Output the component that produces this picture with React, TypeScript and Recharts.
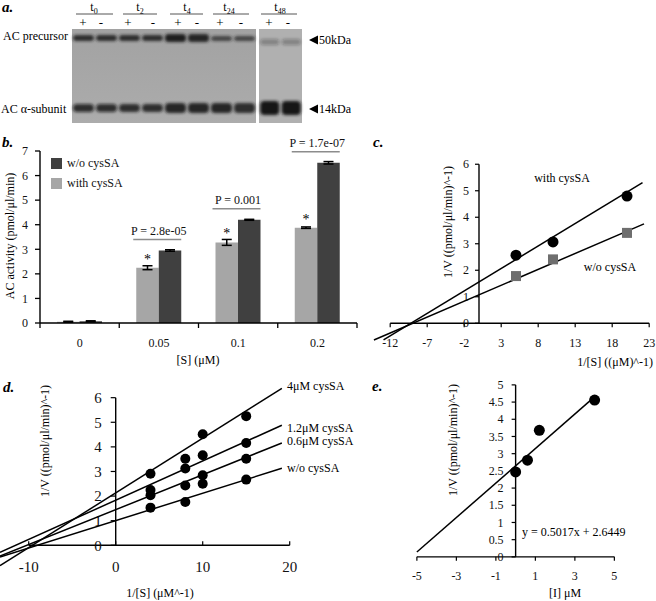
import React from 'react';
import {
  BarChart, Bar, XAxis, YAxis, ErrorBar, LabelList, Legend,
  ScatterChart, Scatter, ReferenceLine,
} from 'recharts';

const FONT = '"Liberation Serif", "Times New Roman", Times, serif';
const INK = '#111';

// ---------- panel a (western blot) ----------
const blotTimes = ['0', '2', '4', '24', '48'];
const blotSigns = ['+', '-', '+', '-', '+', '-', '+', '-', '+', '-'];
const precursorDensity = [0.85, 0.85, 0.85, 0.85, 0.95, 0.9, 0.7, 0.7, 0.3, 0.3];
const alphaDensity = [0.8, 0.8, 0.85, 0.85, 0.9, 0.9, 0.9, 0.85, 1, 1];

// ---------- panel b ----------
const sCategories = ['0', '0.05', '0.1', '0.2'];
const withCysSA = [0.05, 2.25, 3.28, 3.88];
const withCysSAErr = [0.02, 0.08, 0.12, 0.03];
const withoutCysSA = [0.07, 2.95, 4.2, 6.52];
const withoutCysSAErr = [0.02, 0.03, 0.02, 0.05];
const significance = ['', '*', '*', '*'];
const pValues = ['', 'P = 2.8e-05', 'P = 0.001', 'P = 1.7e-07'];
const activityTicks = [0, 1, 2, 3, 4, 5, 6, 7];
const legendOrder = ['w/o cysSA', 'with cysSA'];

// ---------- panel c ----------
const cInvS = [5, 10, 20];
const cWithInvV = [2.57, 3.07, 4.8];
const cWithoutInvV = [1.78, 2.41, 3.41];
const cWithFitX = [-12.9, 22.1];
const cWithFitY = [-0.63, 5.31];
const cWithoutFitX = [-14.2, 22.3];
const cWithoutFitY = [-0.63, 3.75];
const cXTicks = [-12, -7, -2, 3, 8, 13, 18, 23];
const cYTicks = [0, 1, 2, 3, 4, 5, 6];

// ---------- panel d ----------
const dInvS = [4, 8, 10, 15];
const dWithout = [1.53, 1.76, 2.5, 2.67];
const d06 = [2.03, 2.43, 2.85, 3.52];
const d12 = [2.25, 3.12, 3.66, 4.16];
const d4 = [2.91, 3.52, 4.51, 5.25];
const dFitX = [-13.3, 19.1];
const dFitWithoutY = [-0.48, 3.13];
const dFit06Y = [-0.44, 4.16];
const dFit12Y = [-0.29, 4.88];
const dFit4Y = [-0.83, 6.38];
const dXTicks = [-10, 0, 10, 20];
const dYTicks = [0, 1, 2, 3, 4, 5, 6];

// ---------- panel e ----------
const eInhibitor = [0, 0.6, 1.2, 4];
const eInvV = [2.47, 2.81, 3.68, 4.56];
const eFitX = [-5, 4.05];
const eFitY = [0.14, 4.68];
const eXTicks = [-5, -3, -1, 1, 3, 5];
const eYTicks = [0, 0.5, 1, 1.5, 2, 2.5, 3, 3.5, 4, 4.5, 5];

// ---------- helpers ----------
const pts = (xs: number[], ys: number[]) => xs.map((x, i) => ({ x, y: ys[i] }));
const xTickData = (ticks: number[]) => ticks.map((v) => ({ x: v, y: 0, label: String(v) }));
const yTickData = (ticks: number[]) => ticks.map((v) => ({ x: 0, y: v, label: String(v) }));

const NoMark = () => <g />;
const dot = (r: number) => (p: any) => <circle cx={p.cx} cy={p.cy} r={r} fill="#000" />;
const square = (p: any) => <rect x={p.cx - 5} y={p.cy - 5} width={10} height={10} fill="#6e6e6e" />;

const makeXTick = (fs: number, dy: number, len: number) => (p: any) => (
  <g>
    <line x1={p.cx} x2={p.cx} y1={p.cy} y2={p.cy + len} stroke="#000" strokeWidth={1.2} />
    <text x={p.cx} y={p.cy + dy} textAnchor="middle" fontSize={fs} fontFamily={FONT} fill={INK}>
      {p.payload.label}
    </text>
  </g>
);
const makeYTick = (fs: number, gap: number, len: number) => (p: any) => (
  <g>
    <line x1={p.cx - len} x2={p.cx} y1={p.cy} y2={p.cy} stroke="#000" strokeWidth={1.2} />
    <text x={p.cx - gap} y={p.cy} dy="0.35em" textAnchor="end" fontSize={fs} fontFamily={FONT} fill={INK}>
      {p.payload.label}
    </text>
  </g>
);

type Frame = { ox: number; oy: number; sx: number; sy: number; x0: number; x1: number; y0: number; y1: number };
const frameStyle = (f: Frame): React.CSSProperties => ({
  position: 'absolute',
  left: f.ox + f.x0 * f.sx,
  top: f.oy - f.y1 * f.sy,
});
const frameW = (f: Frame) => (f.x1 - f.x0) * f.sx;
const frameH = (f: Frame) => (f.y1 - f.y0) * f.sy;

const frameC: Frame = { ox: 479, oy: 323, sx: 7.4, sy: 26.5, x0: -15, x1: 24.3, y0: -1.2, y1: 6.5 };
const frameD: Frame = { ox: 116, oy: 545, sx: 8.7, sy: 24.6, x0: -13.3, x1: 22.5, y0: -1.3, y1: 6.8 };
const frameE: Frame = { ox: 515.5, oy: 556.7, sx: 19.75, sy: 34.4, x0: -5.5, x1: 5.5, y0: -0.8, y1: 5.2 };

const axisStroke = { stroke: '#000', strokeWidth: 1.4 };

// ---------- panel b pieces ----------
const bData = sCategories.map((s, i) => ({
  s,
  withV: withCysSA[i],
  withErr: withCysSAErr[i],
  woV: withoutCysSA[i],
  woErr: withoutCysSAErr[i],
  star: significance[i],
  p: pValues[i],
}));

const CatTick = (props: any) => {
  const { x, y, payload, index } = props;
  const half = payload && typeof payload.offset === 'number' && payload.offset > 0 ? payload.offset : 317 / 8;
  return (
    <g>
      {index === 0 && <line x1={x - half} x2={x - half} y1={y} y2={y + 5} stroke="#000" strokeWidth={1.3} />}
      <line x1={x + half} x2={x + half} y1={y} y2={y + 5} stroke="#000" strokeWidth={1.3} />
      <text x={x} y={y + 24} textAnchor="middle" fontSize={12} fontFamily={FONT} fill={INK}>
        {payload.value}
      </text>
    </g>
  );
};

const StarLabel = (p: any) => {
  const { x, y, width, value } = p;
  if (!value) return null;
  return (
    <text x={Number(x) + Number(width) / 2} y={Number(y) - 4} textAnchor="middle" fontSize={14} fontFamily={FONT} fill="#000">
      {value}
    </text>
  );
};

const PLabel = (p: any) => {
  const { x, y, width, value } = p;
  if (!value) return null;
  const X = Number(x);
  const W = Number(width);
  const yl = Number(y) - 11;
  return (
    <g>
      <line x1={X - W - 3} x2={X + W} y1={yl} y2={yl} stroke="#8c8c8c" strokeWidth={1.6} />
      <text x={X} y={yl - 5} textAnchor="middle" fontSize={12} fontFamily={FONT} fill={INK}>
        {value}
      </text>
    </g>
  );
};

const BLegend = (props: any) => {
  const payload: any[] = props.payload || [];
  const items = legendOrder
    .map((name) => payload.find((it: any) => it.value === name))
    .filter(Boolean);
  return (
    <div style={{ fontFamily: FONT, fontSize: 12, color: INK }}>
      {items.map((it: any) => (
        <div key={String(it.value)} style={{ display: 'flex', alignItems: 'center', height: 20 }}>
          <span style={{ width: 11, height: 11, background: it.color, marginRight: 5, display: 'inline-block' }} />
          <span>{it.value}</span>
        </div>
      ))}
    </div>
  );
};

// ---------- overlay (blot + annotation text) ----------
const signX = [83, 101, 128, 153, 178, 197, 220, 241, 269, 288];
const timeX = [94, 140, 187, 229, 280];
const timeLineX0 = [76, 123, 170, 213, 261];
const timeLineX1 = [113, 157, 203, 249, 297];

const laneCenter = (i: number) => (i < 8 ? 72 + 23 * (i + 0.5) : 259 + 21.5 * (i - 8 + 0.5));
const laneWidth = (i: number) => (i < 8 ? 21 : 19);
const precursorBox = (i: number) => (i >= 8 ? [39, 6] : i >= 6 ? [36, 5] : i >= 4 ? [34, 8] : [35, 6]);
const alphaBox = (i: number) => (i >= 8 ? [101, 14] : i >= 4 ? [103, 10] : [104, 8]);

const T = (props: any) => <text fontFamily={FONT} fill="#000" fontSize={12} {...props} />;
const PanelLetter = ({ x, y, c }: { x: number; y: number; c: string }) => (
  <text x={x} y={y} fontFamily={FONT} fontSize={15} fontWeight="bold" fontStyle="italic" fill="#000">{c}</text>
);

const Overlay = () => (
  <svg width={656} height={601} style={{ position: 'absolute', left: 0, top: 0 }}>
    <defs>
      <filter id="blur1" x="-20%" y="-50%" width="140%" height="200%">
        <feGaussianBlur stdDeviation="1.4" />
      </filter>
      <linearGradient id="blotBg" x1="0" y1="0" x2="0" y2="1">
        <stop offset="0" stopColor="#a2a2a2" />
        <stop offset="1" stopColor="#acacac" />
      </linearGradient>
    </defs>
    {/* panel a */}
    <PanelLetter x={2} y={12} c="a." />
    <rect x={72} y={29} width={184} height={94} fill="url(#blotBg)" />
    <rect x={259} y={29} width={43} height={94} fill="#b0b0b0" />
    {blotSigns.map((_, i) => {
      const [py, ph] = precursorBox(i);
      const [ay, ah] = alphaBox(i);
      const w = laneWidth(i);
      const cx = laneCenter(i);
      return (
        <g key={i} filter="url(#blur1)">
          <rect x={cx - w / 2} y={py} width={w} height={ph} rx={3} fill={`rgba(25,25,25,${precursorDensity[i]})`} />
          <rect x={cx - w / 2} y={ay} width={w} height={ah} rx={4} fill={`rgba(20,20,20,${alphaDensity[i]})`} />
        </g>
      );
    })}
    {blotTimes.map((t, i) => (
      <g key={t}>
        <T x={timeX[i]} y={11} textAnchor="middle">
          t<tspan fontSize={8} dy={3}>{t}</tspan>
        </T>
        <line x1={timeLineX0[i]} x2={timeLineX1[i]} y1={14} y2={14} stroke="#555" strokeWidth={1} />
      </g>
    ))}
    {blotSigns.map((s, i) => (
      <T key={i} x={signX[i]} y={27} textAnchor="middle" fontSize={13}>{s}</T>
    ))}
    <T x={3} y={40}>AC precursor</T>
    <T x={1} y={113}>AC α-subunit</T>
    <polygon points="309,40 318,35.5 318,44.5" fill="#000" />
    <T x={319} y={44}>50kDa</T>
    <polygon points="309,109 318,104.5 318,113.5" fill="#000" />
    <T x={319} y={113}>14kDa</T>

    {/* panel b */}
    <PanelLetter x={2} y={147} c="b." />
    <T x={14} y={236} textAnchor="middle" transform="rotate(-90 14 236)">AC activity (pmol/μl/min)</T>
    <T x={198} y={364} textAnchor="middle">[S] (μM)</T>

    {/* panel c */}
    <PanelLetter x={373} y={147} c="c." />
    <T x={452} y={222} textAnchor="middle" transform="rotate(-90 452 222)">1/V ((pmol/μl/min)^-1)</T>
    <T x={562} y={182} textAnchor="middle">with cysSA</T>
    <T x={610} y={271} textAnchor="middle">w/o cysSA</T>
    <T x={653} y={366} textAnchor="end">1/[S] ((μM)^-1)</T>

    {/* panel d */}
    <PanelLetter x={3} y={392} c="d." />
    <T x={49} y={441} textAnchor="middle" transform="rotate(-90 49 441)">1/V ((pmol/μl/min)^-1)</T>
    <T x={287} y={390}>4μM cysSA</T>
    <T x={287} y={432}>1.2μM cysSA</T>
    <T x={287} y={445}>0.6μM cysSA</T>
    <T x={287} y={472}>w/o cysSA</T>
    <T x={160} y={597} textAnchor="middle">1/[S] (μM^-1)</T>

    {/* panel e */}
    <PanelLetter x={372} y={391} c="e." />
    <T x={457} y={440} textAnchor="middle" transform="rotate(-90 457 440)">1/V ((pmol/μl/min)^-1)</T>
    <T x={522} y={536}>y = 0.5017x + 2.6449</T>
    <T x={565} y={597} textAnchor="middle">[I] μM</T>
  </svg>
);

const LinePlot = ({ frame, children }: { frame: Frame; children: React.ReactNode }) => (
  <div style={frameStyle(frame)}>
    <ScatterChart width={frameW(frame)} height={frameH(frame)} margin={{ top: 0, right: 0, bottom: 0, left: 0 }}>
      <XAxis type="number" dataKey="x" domain={[frame.x0, frame.x1]} hide />
      <YAxis type="number" dataKey="y" domain={[frame.y0, frame.y1]} hide />
      {children}
    </ScatterChart>
  </div>
);

const fitLine = { stroke: '#000', strokeWidth: 1.5 };

export default function App() {
  return (
    <div style={{ position: 'absolute', left: 0, top: 0, width: 656, height: 601, overflow: 'hidden', background: '#fff', fontFamily: FONT }}>
      <Overlay />

      {/* panel b */}
      <div style={{ position: 'absolute', left: 0, top: 125 }}>
        <BarChart width={360} height={245} data={bData} margin={{ top: 26, right: 3, left: 0, bottom: 17 }} barGap={0}>
          <XAxis
            dataKey="s"
            height={30}
            tickSize={0}
            tickMargin={0}
            tickLine={false}
            axisLine={axisStroke}
            tick={<CatTick />}
            interval={0}
          />
          <YAxis
            width={40}
            domain={[0, 7]}
            ticks={activityTicks}
            interval={0}
            tickSize={5}
            tickMargin={7}
            axisLine={axisStroke}
            tickLine={{ stroke: '#000', strokeWidth: 1.3 }}
            tick={{ fill: INK, fontSize: 12, fontFamily: FONT }}
          />
          <Legend
            layout="vertical"
            align="center"
            verticalAlign="middle"
            content={<BLegend />}
            wrapperStyle={{ left: 51, top: 28, width: 'auto' }}
          />
          <Bar dataKey="withV" name="with cysSA" fill="#a6a6a6" barSize={22.5} isAnimationActive={false}>
            <ErrorBar dataKey="withErr" width={5} stroke="#000" strokeWidth={1.5} direction="y" />
            <LabelList dataKey="star" content={<StarLabel />} />
          </Bar>
          <Bar dataKey="woV" name="w/o cysSA" fill="#404040" barSize={22.5} isAnimationActive={false}>
            <ErrorBar dataKey="woErr" width={5} stroke="#000" strokeWidth={1.5} direction="y" />
            <LabelList dataKey="p" content={<PLabel />} />
          </Bar>
        </BarChart>
      </div>

      {/* panel c */}
      <LinePlot frame={frameC}>
        <ReferenceLine segment={[{ x: -12, y: 0 }, { x: 23, y: 0 }]} {...axisStroke} />
        <ReferenceLine segment={[{ x: 0, y: 0 }, { x: 0, y: 6 }]} {...axisStroke} />
        <Scatter data={xTickData(cXTicks)} shape={makeXTick(12, 24, 4)} isAnimationActive={false} />
        <Scatter data={yTickData(cYTicks)} shape={makeYTick(12, 10, 4)} isAnimationActive={false} />
        <Scatter data={pts(cWithFitX, cWithFitY)} line={fitLine} shape={NoMark} isAnimationActive={false} />
        <Scatter data={pts(cWithoutFitX, cWithoutFitY)} line={fitLine} shape={NoMark} isAnimationActive={false} />
        <Scatter data={pts(cInvS, cWithoutInvV)} shape={square} isAnimationActive={false} />
        <Scatter data={pts(cInvS, cWithInvV)} shape={dot(5.5)} isAnimationActive={false} />
      </LinePlot>

      {/* panel d */}
      <LinePlot frame={frameD}>
        <ReferenceLine segment={[{ x: -10, y: 0 }, { x: 20, y: 0 }]} {...axisStroke} />
        <ReferenceLine segment={[{ x: 0, y: 0 }, { x: 0, y: 6 }]} {...axisStroke} />
        <Scatter data={xTickData(dXTicks)} shape={makeXTick(15, 27, -4)} isAnimationActive={false} />
        <Scatter data={yTickData(dYTicks)} shape={makeYTick(15, 14, 5)} isAnimationActive={false} />
        <Scatter data={pts(dFitX, dFitWithoutY)} line={fitLine} shape={NoMark} isAnimationActive={false} />
        <Scatter data={pts(dFitX, dFit06Y)} line={fitLine} shape={NoMark} isAnimationActive={false} />
        <Scatter data={pts(dFitX, dFit12Y)} line={fitLine} shape={NoMark} isAnimationActive={false} />
        <Scatter data={pts(dFitX, dFit4Y)} line={fitLine} shape={NoMark} isAnimationActive={false} />
        <Scatter data={pts(dInvS, dWithout)} shape={dot(5)} isAnimationActive={false} />
        <Scatter data={pts(dInvS, d06)} shape={dot(5)} isAnimationActive={false} />
        <Scatter data={pts(dInvS, d12)} shape={dot(5)} isAnimationActive={false} />
        <Scatter data={pts(dInvS, d4)} shape={dot(5)} isAnimationActive={false} />
      </LinePlot>

      {/* panel e */}
      <LinePlot frame={frameE}>
        <ReferenceLine segment={[{ x: -5, y: 0 }, { x: 5, y: 0 }]} {...axisStroke} />
        <ReferenceLine segment={[{ x: 0, y: 0 }, { x: 0, y: 5 }]} {...axisStroke} />
        <Scatter data={xTickData(eXTicks)} shape={makeXTick(12, 23, 4)} isAnimationActive={false} />
        <Scatter data={yTickData(eYTicks)} shape={makeYTick(12, 12, 4)} isAnimationActive={false} />
        <Scatter data={pts(eFitX, eFitY)} line={fitLine} shape={NoMark} isAnimationActive={false} />
        <Scatter data={pts(eInhibitor, eInvV)} shape={dot(5.5)} isAnimationActive={false} />
      </LinePlot>
    </div>
  );
}
